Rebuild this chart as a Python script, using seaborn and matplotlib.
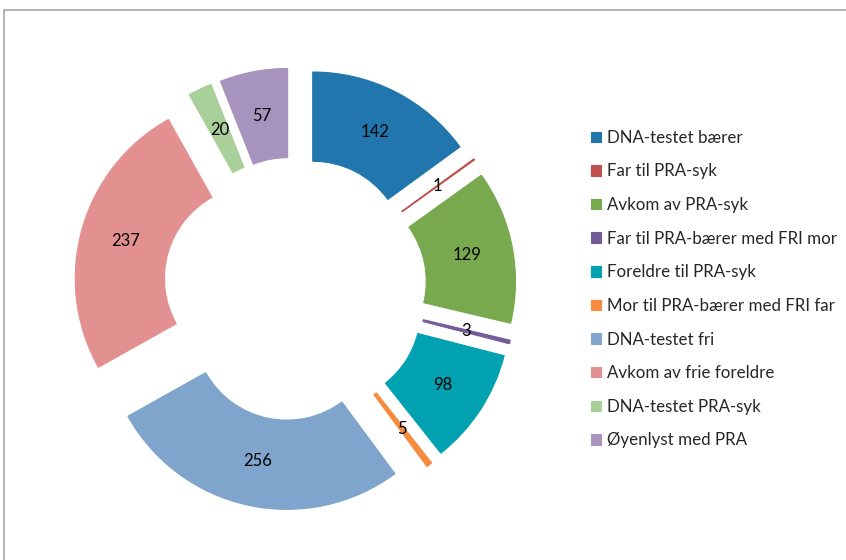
import matplotlib.pyplot as plt
import seaborn as sns
from matplotlib.patches import Rectangle

# data
categories = [
    "DNA-testet bærer",
    "Far til PRA-syk",
    "Avkom av PRA-syk",
    "Far til PRA-bærer med FRI mor",
    "Foreldre til PRA-syk",
    "Mor til PRA-bærer med FRI far",
    "DNA-testet fri",
    "Avkom av frie foreldre",
    "DNA-testet PRA-syk",
    "Øyenlyst med PRA",
]
counts = [142, 1, 129, 3, 98, 5, 256, 237, 20, 57]
colors = [
    "#2176AE", "#C0504D", "#78A94F", "#735A99", "#00A1B1",
    "#F68B40", "#7FA5CC", "#E39190", "#A9D09A", "#A794BE",
]

sns.set_theme(style="white")
plt.rcParams["font.family"] = ["Lato", "DejaVu Sans"]

palette = sns.color_palette(colors)
total = sum(counts)

fig = plt.figure(figsize=(8.46, 5.6), dpi=100)
# grey chart frame like the spreadsheet export
fig.patches.append(Rectangle((4 / 846, -0.1), 1.2, (560 - 10) / 560 + 0.1,
                             transform=fig.transFigure, fill=False,
                             edgecolor="#A6A6A6", linewidth=1.2))

ax = fig.add_axes([45 / 846, 21 / 560, 500 / 846, 500 / 560])
wedges, texts, autotexts = ax.pie(
    counts,
    colors=palette,
    startangle=90,
    counterclock=False,
    explode=[0.215] * len(counts),
    wedgeprops=dict(width=0.49, linewidth=0.8),
    autopct=lambda p: f"{round(p * total / 100)}",
    pctdistance=0.75,
    textprops=dict(fontsize=12, color="black"),
)
for w in wedges:
    w.set_edgecolor(w.get_facecolor())

lim = 254 / 185
ax.set_xlim(-lim, lim)
ax.set_ylim(-lim, lim)
ax.set_aspect("equal")
ax.axis("off")

fig.legend(
    wedges, categories,
    loc="upper left",
    bbox_to_anchor=(584 / 846, 1 - 123 / 560),
    frameon=False,
    fontsize=12.2,
    handlelength=0.58,
    handleheight=0.58,
    handletextpad=0.35,
    labelspacing=1.04,
    borderaxespad=0,
)

fig.savefig("out.png", dpi=100)
